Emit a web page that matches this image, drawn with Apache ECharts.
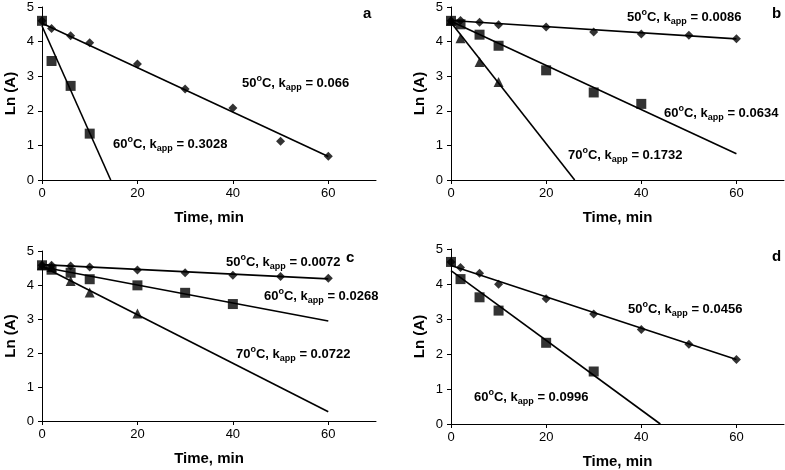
<!DOCTYPE html>
<html>
<head>
<meta charset="utf-8">
<script src="https://cdn.jsdelivr.net/npm/echarts@6/dist/echarts.min.js"></script>
<style>
  html, body { margin: 0; padding: 0; background: #fff; }
  #chart { width: 785px; height: 470px; }
</style>
</head>
<body>
<div id="chart"></div>
<script>
// measured points [time, ln(A)] per panel and temperature
const a50 = [[0, 4.6], [2, 4.38], [6, 4.17], [10, 3.97], [20, 3.35], [30, 2.63], [40, 2.08], [50, 1.12], [60, 0.69]];
const a60 = [[0, 4.6], [2, 3.44], [6, 2.72], [10, 1.34]];
const b50 = [[0, 4.6], [2, 4.61], [6, 4.56], [10, 4.49], [20, 4.42], [30, 4.28], [40, 4.22], [50, 4.18], [60, 4.08]];
const b60 = [[0, 4.6], [2, 4.5], [6, 4.2], [10, 3.88], [20, 3.17], [30, 2.53], [40, 2.2]];
const b70 = [[0, 4.6], [2, 4.1], [6, 3.41], [10, 2.83]];
const c50 = [[0, 4.58], [2, 4.58], [6, 4.56], [10, 4.53], [20, 4.44], [30, 4.36], [40, 4.29], [50, 4.25], [60, 4.2]];
const c60 = [[0, 4.58], [2, 4.45], [6, 4.36], [10, 4.17], [20, 3.99], [30, 3.77], [40, 3.44]];
const c70 = [[0, 4.58], [2, 4.53], [6, 4.12], [10, 3.78], [20, 3.16]];
const d50 = [[0, 4.63], [2, 4.47], [6, 4.31], [10, 3.99], [20, 3.58], [30, 3.14], [40, 2.7], [50, 2.28], [60, 1.84]];
const d60 = [[0, 4.63], [2, 4.14], [6, 3.62], [10, 3.24], [20, 2.32], [30, 1.5]];

// fitted line end points
const fitA50 = [[0, 4.53], [60, 0.68]];
const fitA60 = [[0, 4.45], [14.4, 0]];
const fitB50 = [[0, 4.61], [60, 4.08]];
const fitB60 = [[0, 4.59], [60, 0.76]];
const fitB70 = [[0, 4.55], [26, 0]];
const fitC50 = [[0, 4.6], [60, 4.18]];
const fitC60 = [[0, 4.53], [60, 2.94]];
const fitC70 = [[0, 4.55], [60, 0.27]];
const fitD50 = [[0, 4.53], [60, 1.84]];
const fitD60 = [[0, 4.38], [44, 0]];

const xTicks = [0, 20, 40, 60];

const chart = echarts.init(document.getElementById('chart'));
const font = 'Arial, "Liberation Sans", sans-serif';

const grids = [
  { left: 42, top: 7, width: 334, height: 173 },
  { left: 451, top: 7, width: 333, height: 173 },
  { left: 42, top: 251, width: 334, height: 170 },
  { left: 451, top: 249, width: 333, height: 175 }
];

const xAxes = grids.map((g, i) => ({
  type: 'value', gridIndex: i, min: 0, max: 70, interval: 10,
  name: 'Time, min', nameLocation: 'middle', nameGap: 30,
  nameTextStyle: { fontFamily: font, fontWeight: 'bold', fontSize: 15, color: '#000' },
  axisLine: { lineStyle: { color: '#000', width: 1 } },
  axisTick: { customValues: xTicks, length: 4, lineStyle: { color: '#000' } },
  axisLabel: { customValues: xTicks, color: '#000', fontFamily: font, fontSize: 13, margin: 7 },
  splitLine: { show: false }
}));

const yAxes = grids.map((g, i) => ({
  type: 'value', gridIndex: i, min: 0, max: 5, interval: 1,
  name: 'Ln (A)', nameLocation: 'middle', nameGap: 24, nameRotate: 90,
  nameTextStyle: { fontFamily: font, fontWeight: 'bold', fontSize: 15, color: '#000' },
  axisLine: { show: true, lineStyle: { color: '#000', width: 1 } },
  axisTick: { show: true, length: 4, lineStyle: { color: '#000' } },
  axisLabel: { color: '#000', fontFamily: font, fontSize: 13, margin: 8 },
  splitLine: { show: false }
}));

function pts(data, idx, symbol, size) {
  return {
    type: 'scatter', xAxisIndex: idx, yAxisIndex: idx, data: data,
    symbol: symbol, symbolSize: size, itemStyle: { color: '#000' }, z: 3
  };
}
function fit(data, idx) {
  return {
    type: 'line', xAxisIndex: idx, yAxisIndex: idx, data: data,
    symbol: 'none', lineStyle: { color: '#000', width: 1.6 }, z: 2
  };
}

const rich = {
  n: { fontFamily: font, fontWeight: 'bold', fontSize: 13, color: '#000', lineHeight: 18 },
  sup: { fontFamily: font, fontWeight: 'bold', fontSize: 9, color: '#000', verticalAlign: 'top', lineHeight: 18 },
  sub: { fontFamily: font, fontWeight: 'bold', fontSize: 9, color: '#000', verticalAlign: 'bottom', lineHeight: 18 }
};
function note(x, y, temp, k) {
  return {
    type: 'text', left: x, top: y - 9, z: 10,
    style: { text: '{n|' + temp + '}{sup|o}{n|C, k}{sub|app}{n| = ' + k + '}', rich: rich }
  };
}
function letter(x, y, s) {
  return {
    type: 'text', left: x - 5, top: y - 8, z: 10,
    style: { text: s, fontFamily: font, fontWeight: 'bold', fontSize: 15, fill: '#000' }
  };
}

chart.setOption({
  animation: false,
  backgroundColor: '#fff',
  grid: grids,
  xAxis: xAxes,
  yAxis: yAxes,
  series: [
    fit(fitA50, 0), fit(fitA60, 0),
    pts(a50, 0, 'diamond', 9), pts(a60, 0, 'rect', 10),
    fit(fitB50, 1), fit(fitB60, 1), fit(fitB70, 1),
    pts(b50, 1, 'diamond', 9), pts(b60, 1, 'rect', 10), pts(b70, 1, 'triangle', 10),
    fit(fitC50, 2), fit(fitC60, 2), fit(fitC70, 2),
    pts(c50, 2, 'diamond', 9), pts(c60, 2, 'rect', 10), pts(c70, 2, 'triangle', 10),
    fit(fitD50, 3), fit(fitD60, 3),
    pts(d50, 3, 'diamond', 9), pts(d60, 3, 'rect', 10)
  ],
  graphic: [
    note(242, 83, '50', '0.066'),
    note(113, 144, '60', '0.3028'),
    letter(368, 14, 'a'),
    note(627, 17, '50', '0.0086'),
    note(664, 113, '60', '0.0634'),
    note(568, 155, '70', '0.1732'),
    letter(777, 14, 'b'),
    note(226, 262, '50', '0.0072'),
    note(264, 296, '60', '0.0268'),
    note(236, 354, '70', '0.0722'),
    letter(351, 258, 'c'),
    note(628, 309, '50', '0.0456'),
    note(474, 397, '60', '0.0996'),
    letter(777, 257, 'd')
  ]
});
</script>
</body>
</html>
